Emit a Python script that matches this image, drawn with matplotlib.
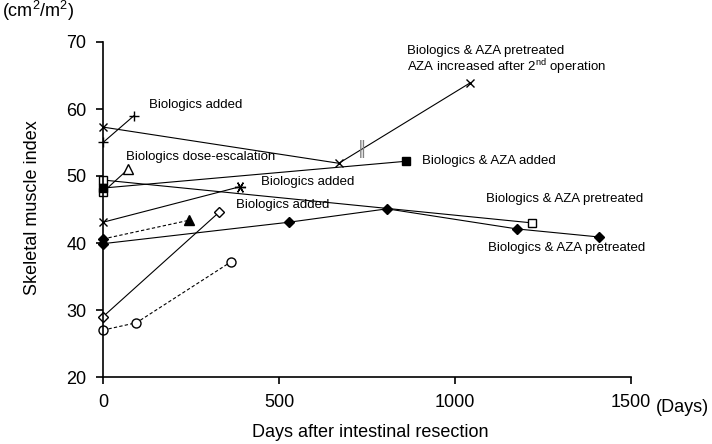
import matplotlib
matplotlib.use('Agg')
import matplotlib.pyplot as plt

plt.rcParams['font.family'] = ['Liberation Sans', 'DejaVu Sans']
plt.rcParams['mathtext.fontset'] = 'custom'
plt.rcParams['mathtext.rm'] = 'Liberation Sans'
plt.rcParams['mathtext.it'] = 'Liberation Sans:italic'

# x: days after resection, y: skeletal muscle index (cm2/m2)
x_cross = [0, 670, 1043]
y_cross = [57.3, 51.9, 63.9]
x_plus = [0, 88]
y_plus = [55.0, 59.0]
x_tri = [0, 71]
y_tri = [47.6, 51.0]
x_sq_open = [0, 1219]
y_sq_open = [49.4, 43.0]
x_sq_fill = [0, 861]
y_sq_fill = [48.2, 52.2]
x_ast = [0, 389]
y_ast = [43.1, 48.4]
x_tri_fill = [0, 245]
y_tri_fill = [40.6, 43.4]
x_dia_fill = [0, 528, 807, 1176, 1409]
y_dia_fill = [39.9, 43.1, 45.1, 42.1, 40.9]
x_dia_open = [0, 330]
y_dia_open = [29.0, 44.6]
x_circ = [0, 95, 364]
y_circ = [27.0, 28.1, 37.2]

xticks = [0, 500, 1000, 1500]
yticks = [20, 30, 40, 50, 60, 70]

fig = plt.figure(figsize=(7.12, 4.44), dpi=100)
ax = fig.add_axes([103 / 712, 1 - 377 / 444, 528 / 712, 335 / 444])

lw = 0.8
dash = (0, (3, 2))
kw = dict(color='black', lw=lw, clip_on=False)

# lines first, markers on top
ax.plot(x_cross, y_cross, marker='x', ms=6, mew=1.0, **kw)
ax.plot(x_plus, y_plus, marker='+', ms=7, mew=1.0, **kw)
ax.plot(x_sq_open, y_sq_open, marker='s', ms=6, mfc='white', mec='black', mew=1.0, **kw)
ax.plot(x_tri, y_tri, **kw)
ax.plot(x_tri[:1], y_tri[:1], ls='none', marker='s', ms=6, mfc='white', mec='black', mew=1.0, clip_on=False)
ax.plot(x_tri[1:], y_tri[1:], ls='none', marker='^', ms=6.5, mfc='white', mec='black', mew=1.0, clip_on=False)
ax.plot(x_sq_fill, y_sq_fill, marker='s', ms=6, mfc='black', mec='black', **kw)
ax.plot(x_ast, y_ast, **kw)
ax.plot(x_ast[:1], y_ast[:1], ls='none', marker='x', ms=6, mew=1.0, color='black', clip_on=False)
ax.plot(x_ast[1:], y_ast[1:], ls='none', marker=(6, 2, 90), ms=8, mew=1.0, color='black', clip_on=False)
ax.plot(x_tri_fill, y_tri_fill, ls=dash, color='black', lw=lw, clip_on=False)
ax.plot(x_tri_fill[:1], y_tri_fill[:1], ls='none', marker='D', ms=5, color='black', clip_on=False)
ax.plot(x_tri_fill[1:], y_tri_fill[1:], ls='none', marker='^', ms=7, color='black', clip_on=False)
ax.plot(x_dia_fill, y_dia_fill, marker='D', ms=5, mfc='black', mec='black', **kw)
ax.plot(x_dia_open, y_dia_open, marker='D', ms=4.8, mfc='white', mec='black', mew=1.0, **kw)
ax.plot(x_circ, y_circ, ls=dash, marker='o', ms=6.5, mfc='white', mec='black', mew=1.0,
        color='black', lw=lw, clip_on=False)

# break mark on the top line
ax.text(736, 54.0, '\u2016', color='gray', fontsize=12, ha='center', va='center',
        family='DejaVu Sans')

fs = 9.5
ax.text(131, 60.6, 'Biologics added', fontsize=fs, va='center')
ax.text(65, 52.8, 'Biologics dose-escalation', fontsize=fs, va='center')
ax.text(449, 49.1, 'Biologics added', fontsize=fs, va='center')
ax.text(378, 45.7, 'Biologics added', fontsize=fs, va='center')
ax.text(906, 52.3, 'Biologics & AZA added', fontsize=fs, va='center')
ax.text(1088, 46.6, 'Biologics & AZA pretreated', fontsize=fs, va='center')
ax.text(1094, 39.3, 'Biologics & AZA pretreated', fontsize=fs, va='center')
ax.text(864, 68.7, 'Biologics & AZA pretreated', fontsize=fs, va='center')
ax.text(864, 66.3, 'AZA increased after 2$^{\\rm nd}$ operation', fontsize=fs, va='center')

ax.set_xlim(0, 1500)
ax.set_ylim(20, 70)
ax.set_xticks(xticks)
ax.set_yticks(yticks)
ax.tick_params(direction='out', length=5, width=1.2, labelsize=13, pad=7)
for s in ['top', 'right']:
    ax.spines[s].set_visible(False)
for s in ['left', 'bottom']:
    ax.spines[s].set_linewidth(1.2)

fig.text(33 / 712, 1 - 208 / 444, 'Skeletal muscle index', fontsize=13, rotation=90,
         ha='center', va='center')
fig.text(370 / 712, 1 - 432 / 444, 'Days after intestinal resection', fontsize=13,
         ha='center', va='center')
fig.text(682 / 712, 1 - 407 / 444, '(Days)', fontsize=13, ha='center', va='center')
fig.text(2 / 712, 1 - 11 / 444, '(cm$^2$/m$^2$)', fontsize=13, ha='left', va='center')

fig.savefig('out.png', dpi=100)
